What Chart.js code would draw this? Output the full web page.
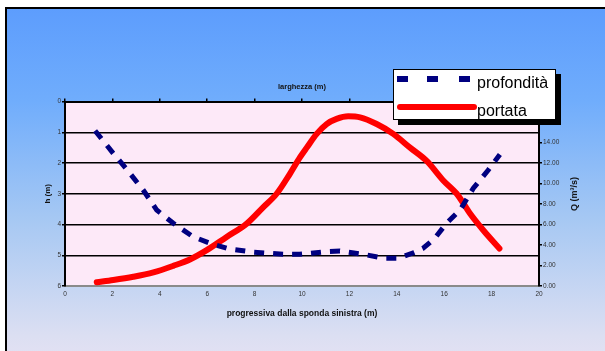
<!DOCTYPE html>
<html>
<head>
<meta charset="utf-8">
<script src="https://cdn.jsdelivr.net/npm/chart.js@4"></script>
<style>
  html, body { margin: 0; padding: 0; width: 605px; height: 351px; overflow: hidden; background: #fff; }
  #frame {
    position: absolute; left: 5px; top: 7px; width: 700px; height: 420px;
    border: 2px solid #000;
    background: linear-gradient(#5d9dfd 0%, #70adfc 22%, #a6c8f3 50%, #dcdff2 78%, #fbe8f7 100%);
  }
  #wrap { position: absolute; left: 0; top: 0; width: 605px; height: 351px; }
  #legend {
    position: absolute; left: 393px; top: 69px; width: 161px; height: 49px;
    background: #fff; border: 1.5px solid #000; box-shadow: 5px 5px 0 #000;
    font-family: "Liberation Sans", Arial, sans-serif; font-size: 16px; color: #000;
  }
  .dash { position: absolute; top: 6px; width: 11px; height: 6px; background: #000080; }
  .red { position: absolute; left: 3px; top: 34px; width: 80px; height: 6px; border-radius: 3px; background: #ff0000; }
  .lbl { position: absolute; left: 83px; line-height: 16px; }
  #qtitle {
    position: absolute; left: 574px; top: 194px; white-space: nowrap;
    transform: translate(-50%, -50%) rotate(-90deg);
    font-family: "Liberation Sans", Arial, sans-serif; font-size: 9px; font-weight: bold; color: #111;
  }
</style>
</head>
<body>
<div id="frame"></div>
<div id="wrap"><canvas id="myChart"></canvas></div>
<div id="legend">
  <div class="dash" style="left:3px"></div>
  <div class="dash" style="left:33px"></div>
  <div class="dash" style="left:65px"></div>
  <div class="lbl" id="lbl0" style="top:5px"></div>
  <div class="red"></div>
  <div class="lbl" id="lbl1" style="top:33px"></div>
</div>
<div id="qtitle"></div>
<script>
// profondità: progressiva (m) e h (m)
const xProf = [1.27, 2.04, 2.6, 3.3, 3.87, 4.57, 5.41, 6.12, 6.96, 7.95, 9.2, 9.9, 11.04, 11.6, 12.73, 13.5, 14.06, 14.7, 15.1, 15.6, 16.1, 16.67, 17.23, 17.86, 18.35];
const hProf = [0.95, 1.69, 2.2, 2.88, 3.53, 3.96, 4.4, 4.61, 4.8, 4.9, 4.97, 4.97, 4.88, 4.86, 4.99, 5.1, 5.1, 4.92, 4.78, 4.45, 3.96, 3.53, 2.82, 2.23, 1.72];

// portata: progressiva (m) e Q (m3/s)
const xPort = [1.34, 2.04, 2.88, 3.73, 4.57, 5.27, 5.98, 6.82, 7.67, 8.37, 8.93, 9.49, 9.92, 10.2, 10.62, 11.04, 11.46, 11.95, 12.45, 13.15, 13.85, 14.56, 15.26, 15.96, 16.53, 17.09, 17.65, 18.33];
const qPort = [0.36, 0.58, 0.9, 1.33, 1.97, 2.59, 3.5, 4.79, 6.09, 7.7, 9.0, 10.95, 12.57, 13.5, 14.84, 15.8, 16.3, 16.55, 16.45, 15.8, 14.84, 13.5, 12.2, 10.3, 9.0, 7.07, 5.44, 3.66];

const labels = ['profondità', 'portata'];
const titleX = 'progressiva dalla sponda sinistra (m)';
const titleTop = 'larghezza (m)';
const titleH = 'h (m)';
const titleQ = 'Q (m³/s)';

const font = '"Liberation Sans", Arial, sans-serif';

// legenda e titolo dell'asse destro (ruotato come quello sinistro)
document.getElementById('lbl0').textContent = labels[0];
document.getElementById('lbl1').textContent = labels[1];
document.getElementById('qtitle').textContent = titleQ;

// sfondo rosa dell'area del grafico
const plotBg = {
  id: 'plotBg',
  beforeDraw(chart) {
    const a = chart.chartArea, c = chart.ctx;
    c.save();
    c.fillStyle = '#fde9f8';
    c.fillRect(a.left, a.top, a.right - a.left, a.bottom - a.top);
    c.restore();
  }
};

const ctx = document.getElementById('myChart').getContext('2d');
const myChart = new Chart(ctx, {
  type: 'line',
  data: {
    datasets: [{
      label: labels[0],
      data: xProf.map((x, i) => ({ x: x, y: hProf[i] })),
      xAxisID: 'x',
      yAxisID: 'y',
      borderColor: '#000080',
      borderWidth: 5,
      borderDash: [10, 9],
      pointRadius: 0,
      tension: 0,
      fill: false
    }, {
      label: labels[1],
      data: xPort.map((x, i) => ({ x: x, y: qPort[i] })),
      xAxisID: 'x',
      yAxisID: 'y1',
      borderColor: '#ff0000',
      borderWidth: 6,
      borderCapStyle: 'round',
      pointRadius: 0,
      cubicInterpolationMode: 'monotone',
      fill: false
    }]
  },
  options: {
    responsive: true,
    maintainAspectRatio: false,
    animation: false,
    layout: { padding: { left: 43, right: 22, top: 82, bottom: 32 } },
    plugins: { legend: { display: false }, tooltip: { enabled: false } },
    scales: {
      x: {
        type: 'linear', position: 'bottom', min: 0, max: 20,
        afterFit: s => { s.height = 33; },
        ticks: { stepSize: 2, maxRotation: 0, padding: 4, color: '#333', font: { family: font, size: 6.5 } },
        grid: { drawOnChartArea: false, drawTicks: false },
        border: { color: '#8a8a8a', width: 2 },
        title: { display: true, text: titleX, color: '#111', padding: 0, font: { family: font, size: 8.5, weight: 'bold' } }
      },
      x2: {
        type: 'linear', position: 'top', min: 0, max: 20,
        afterFit: s => { s.height = 19.5; },
        ticks: { stepSize: 2, display: false },
        grid: { drawOnChartArea: false, tickLength: 3, color: '#000', lineWidth: 1.5 },
        border: { color: '#000', width: 2 },
        title: { display: true, text: titleTop, color: '#111', padding: 0, font: { family: font, size: 7.5, weight: 'bold' } }
      },
      y: {
        position: 'left', reverse: true, min: 0, max: 6,
        afterFit: s => { s.width = 22; },
        ticks: { stepSize: 1, padding: 1, color: '#333', font: { family: font, size: 6.5 } },
        grid: { color: '#000', lineWidth: 1.5, tickLength: 3 },
        border: { color: '#000', width: 2 },
        title: { display: true, text: titleH, color: '#111', padding: 0, font: { family: font, size: 8, weight: 'bold' } }
      },
      y1: {
        position: 'right', min: 0, max: 18,
        afterFit: s => { s.width = 44; },
        ticks: { stepSize: 2, padding: 1, color: '#333', font: { family: font, size: 6.5 },
          callback: v => v.toFixed(2) },
        grid: { drawOnChartArea: false, color: '#000', lineWidth: 1.5, tickLength: 3 },
        border: { color: '#000', width: 2 },
        title: { display: false, text: titleQ }
      }
    }
  },
  plugins: [plotBg]
});
</script>
</body>
</html>
